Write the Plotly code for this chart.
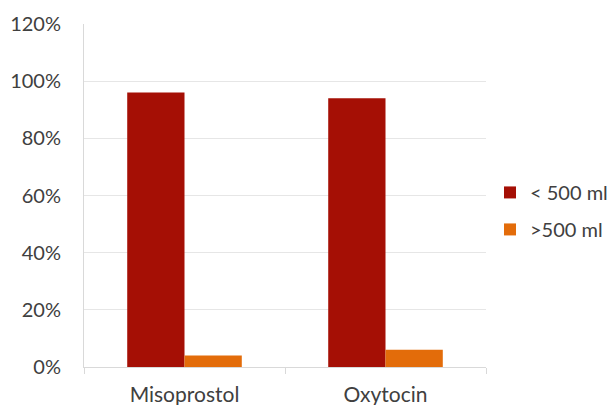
import plotly.graph_objects as go

categories = ["Misoprostol", "Oxytocin"]
below_500 = [0.96, 0.94]
above_500 = [0.04, 0.06]
series_names = ["< 500 ml", ">500 ml"]
y_ticks = [0, 0.2, 0.4, 0.6, 0.8, 1.0, 1.2]

font_family = "Lato, 'Open Sans', sans-serif"
text_color = "#404040"

fig = go.Figure()
fig.add_trace(go.Bar(x=categories, y=below_500, name=series_names[0],
                     legendgroup="a",
                     marker=dict(color="#a50f05", line=dict(width=0))))
fig.add_trace(go.Bar(x=categories, y=above_500, name=series_names[1],
                     legendgroup="b",
                     marker=dict(color="#e36c0a", line=dict(width=0))))

fig.update_layout(
    width=608, height=405,
    margin=dict(l=84, r=122, t=24, b=38, autoexpand=False),
    paper_bgcolor="white", plot_bgcolor="white",
    barmode="group", bargap=0.43, bargroupgap=0,
    font=dict(family=font_family, size=20, color=text_color),
    legend=dict(x=1.01, xanchor="left", y=0.455, yanchor="middle",
                font=dict(size=20, color=text_color),
                itemwidth=30, tracegroupgap=8),
    showlegend=True,
)
fig.update_yaxes(range=[0, 1.2], tickvals=y_ticks, tickformat=".0%",
                 showgrid=True, gridcolor="#e6e6e6", gridwidth=1,
                 showline=True, linecolor="#d9d9d9", linewidth=1,
                 zeroline=False, ticks="", ticklabelstandoff=18)
fig.update_xaxes(showline=True, linecolor="#d9d9d9", linewidth=1,
                 ticks="outside", tickson="boundaries", ticklen=6,
                 tickcolor="#d9d9d9", showgrid=False,
                 tickfont=dict(size=21), ticklabelstandoff=9)

fig.write_html("out.html")
